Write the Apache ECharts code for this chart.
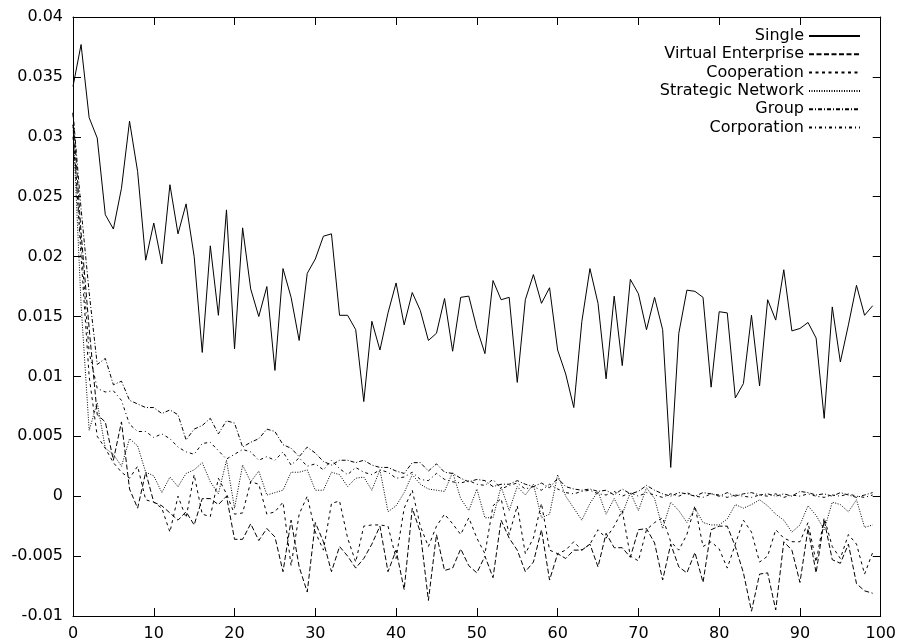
<!DOCTYPE html>
<html>
<head>
<meta charset="utf-8">
<script src="https://cdn.jsdelivr.net/npm/echarts@6/dist/echarts.min.js"></script>
<style>
html,body{margin:0;padding:0;background:#fff;}
#chart{width:899px;height:642px;}
</style>
</head>
<body>
<div id="chart"></div>
<script>
// x positions 0..99 (one point per step)
var xSteps = [];
for (var i = 0; i < 100; i++) xSteps.push(i);

var xTicks = [0, 10, 20, 30, 40, 50, 60, 70, 80, 90, 100];
var yTicks = [-0.01, -0.005, 0, 0.005, 0.01, 0.015, 0.02, 0.025, 0.03, 0.035, 0.04];

var seriesNames = ["Single", "Virtual Enterprise", "Cooperation", "Strategic Network", "Group", "Corporation"];

var single = [
0.0342,0.0377,0.0316,0.0299,0.0235,0.0223,0.0257,0.0313,0.0271,0.0197,
0.0228,0.0194,0.0260,0.0219,0.0244,0.0200,0.0120,0.0209,0.0151,0.0239,
0.0123,0.0224,0.0173,0.0150,0.0175,0.0105,0.0190,0.0166,0.0130,0.0186,
0.0198,0.0217,0.0219,0.0151,0.0151,0.0139,0.0079,0.0146,0.0122,0.0153,
0.0178,0.0143,0.0170,0.0155,0.0130,0.0136,0.0165,0.0121,0.0166,0.0167,
0.0140,0.0119,0.0180,0.0164,0.0166,0.0095,0.0164,0.0185,0.0161,0.0174,
0.0122,0.0102,0.0074,0.0146,0.0190,0.0161,0.0098,0.0167,0.0109,0.0181,
0.0169,0.0139,0.0166,0.0139,0.0024,0.0136,0.0172,0.0171,0.0166,0.0091,
0.0154,0.0153,0.0082,0.0094,0.0151,0.0092,0.0164,0.0147,0.0189,0.0138,
0.0140,0.0145,0.0132,0.0065,0.0158,0.0112,0.0143,0.0176,0.0151,0.0159
];

var virtualEnterprise = [
0.0320,0.0220,0.0140,0.0068,0.0062,0.0030,0.0062,0.0006,-0.0010,0.0020,
-0.0005,-0.0008,-0.0014,-0.0020,-0.0013,-0.0024,-0.0002,-0.0002,-0.0007,0.0000,
-0.0036,-0.0036,-0.0023,-0.0037,-0.0027,-0.0034,-0.0063,-0.0020,-0.0059,-0.0080,
-0.0022,-0.0038,-0.0063,-0.0042,-0.0050,-0.0060,-0.0052,-0.0040,-0.0025,-0.0063,
-0.0045,-0.0078,-0.0010,-0.0030,-0.0087,-0.0032,-0.0062,-0.0060,-0.0044,-0.0058,
-0.0064,-0.0050,-0.0068,-0.0020,-0.0035,-0.0045,-0.0063,-0.0055,-0.0028,-0.0070,
-0.0048,-0.0052,-0.0045,-0.0045,-0.0040,-0.0059,-0.0031,-0.0043,-0.0043,-0.0051,
-0.0028,-0.0027,-0.0039,-0.0070,-0.0040,-0.0059,-0.0064,-0.0047,-0.0072,-0.0028,
-0.0025,-0.0025,-0.0042,-0.0064,-0.0096,-0.0065,-0.0064,-0.0095,-0.0038,-0.0045,
-0.0072,-0.0027,-0.0064,-0.0020,-0.0053,-0.0056,-0.0040,-0.0073,-0.0079,-0.0081
];

var cooperation = [
0.0310,0.0200,0.0100,0.0050,0.0040,0.0028,0.0020,0.0015,0.0025,-0.0003,
-0.0005,-0.0010,-0.0030,0.0000,-0.0018,0.0018,-0.0015,-0.0017,0.0015,0.0002,
-0.0015,-0.0014,0.0012,0.0010,-0.0015,-0.0013,-0.0005,-0.0058,-0.0015,0.0000,
-0.0030,-0.0045,-0.0006,-0.0004,-0.0035,-0.0055,-0.0025,-0.0024,-0.0024,-0.0025,
-0.0052,-0.0010,0.0005,-0.0025,-0.0042,-0.0025,-0.0015,-0.0023,-0.0032,-0.0018,
-0.0035,-0.0048,-0.0008,-0.0002,-0.0032,-0.0008,-0.0048,-0.0035,-0.0006,-0.0045,
-0.0048,-0.0045,-0.0038,-0.0045,-0.0040,-0.0028,-0.0035,-0.0025,-0.0012,-0.0050,
-0.0054,-0.0028,-0.0022,-0.0018,-0.0038,-0.0045,-0.0032,-0.0008,-0.0042,-0.0038,
-0.0044,-0.0060,-0.0040,-0.0020,-0.0030,-0.0055,-0.0050,-0.0028,-0.0035,-0.0038,
-0.0038,-0.0022,-0.0055,-0.0018,-0.0042,-0.0052,-0.0032,-0.0040,-0.0065,-0.0047
];

var strategicNetwork = [
0.0310,0.0160,0.0055,0.0078,0.0040,0.0035,0.0025,0.0048,0.0042,0.0020,
0.0017,0.0003,0.0016,0.0008,0.0019,0.0022,0.0028,0.0012,0.0002,0.0030,
-0.0010,0.0026,0.0012,0.0021,0.0001,0.0003,0.0005,0.0020,0.0020,0.0022,
0.0005,0.0005,0.0020,0.0018,0.0008,0.0015,0.0016,0.0005,0.0022,-0.0013,
-0.0008,0.0003,0.0018,0.0010,0.0006,0.0005,0.0004,0.0020,-0.0002,-0.0012,
0.0006,-0.0018,-0.0018,0.0008,-0.0012,0.0008,0.0001,0.0010,-0.0018,-0.0015,
0.0018,0.0000,-0.0010,-0.0020,-0.0006,0.0004,-0.0015,-0.0002,-0.0015,0.0003,
-0.0012,0.0007,-0.0002,-0.0027,-0.0005,-0.0012,-0.0022,-0.0010,-0.0022,-0.0024,
-0.0024,-0.0019,-0.0007,-0.0010,-0.0007,-0.0003,-0.0008,-0.0015,-0.0020,-0.0030,
-0.0024,-0.0008,-0.0016,-0.0028,-0.0005,-0.0007,-0.0013,-0.0003,-0.0026,-0.0024
];

var group = [
0.0320,0.0240,0.0170,0.0110,0.0115,0.0093,0.0096,0.0080,0.0077,0.0074,
0.0074,0.0069,0.0072,0.0068,0.0047,0.0056,0.0059,0.0065,0.0052,0.0063,
0.0061,0.0041,0.0045,0.0048,0.0056,0.0054,0.0043,0.0040,0.0033,0.0041,
0.0036,0.0029,0.0026,0.0030,0.0030,0.0028,0.0030,0.0026,0.0024,0.0024,
0.0021,0.0019,0.0028,0.0028,0.0021,0.0027,0.0020,0.0019,0.0015,0.0012,
0.0014,0.0013,0.0008,0.0010,0.0010,0.0013,0.0010,0.0008,0.0011,0.0007,
0.0015,0.0008,0.0006,0.0005,0.0006,0.0004,0.0005,0.0001,0.0006,0.0002,
0.0004,0.0009,0.0005,0.0002,0.0000,0.0003,0.0002,0.0000,0.0003,0.0002,
0.0000,0.0003,0.0000,0.0002,0.0003,0.0001,0.0002,0.0000,0.0002,0.0000,
0.0004,0.0003,0.0001,0.0002,0.0000,0.0003,0.0001,-0.0001,0.0001,0.0003
];

var corporation = [
0.0300,0.0210,0.0120,0.0090,0.0087,0.0088,0.0080,0.0060,0.0054,0.0054,
0.0049,0.0052,0.0048,0.0041,0.0037,0.0035,0.0044,0.0045,0.0038,0.0031,
0.0035,0.0039,0.0037,0.0030,0.0033,0.0030,0.0037,0.0026,0.0032,0.0025,
0.0027,0.0022,0.0030,0.0023,0.0018,0.0024,0.0020,0.0018,0.0022,0.0020,
0.0015,0.0016,0.0020,0.0014,0.0013,0.0019,0.0014,0.0012,0.0011,0.0013,
0.0010,0.0009,0.0014,0.0006,0.0009,0.0011,0.0006,0.0008,0.0005,0.0010,
0.0006,0.0003,0.0002,0.0004,0.0005,0.0002,0.0001,0.0004,0.0000,0.0003,
0.0000,0.0003,0.0001,-0.0001,0.0002,0.0000,0.0003,0.0000,-0.0001,0.0002,
0.0001,-0.0001,0.0001,0.0000,-0.0001,0.0001,0.0000,0.0002,-0.0001,0.0001,
0.0000,0.0002,0.0000,-0.0001,0.0001,0.0000,0.0002,0.0000,-0.0001,0.0001
];

var allValues = [single, virtualEnterprise, cooperation, strategicNetwork, group, corporation];
var dashes = ['solid', [5, 2.5], [3, 3.5], [1, 1.5], [4, 2, 1, 2], [3, 3, 1, 3]];

function pairs(vals) {
  return vals.map(function (v, i) { return [xSteps[i], v]; });
}

var FONT = 'DejaVu Sans';
var chart = echarts.init(document.getElementById('chart'), null, {renderer: 'canvas'});

var axisCommon = {
  type: 'value',
  axisLine: {show: true, onZero: false, lineStyle: {color: '#000', width: 1}},
  axisTick: {show: true, inside: true, length: 8, lineStyle: {color: '#000', width: 1}},
  splitLine: {show: false},
  minorTick: {show: false}
};

function fmtY(v) { return parseFloat(v.toFixed(4)).toString(); }

var option = {
  animation: false,
  backgroundColor: '#fff',
  grid: {left: 73, right: 15, top: 17, bottom: 26, containLabel: false},
  xAxis: [
    Object.assign({}, axisCommon, {
      min: xTicks[0], max: xTicks[xTicks.length - 1], interval: 10, position: 'bottom',
      axisLabel: {show: true, color: '#000', fontFamily: FONT, fontSize: 16, margin: 10}
    }),
    Object.assign({}, axisCommon, {
      min: xTicks[0], max: xTicks[xTicks.length - 1], interval: 10, position: 'top',
      axisLabel: {show: false}
    })
  ],
  yAxis: [
    Object.assign({}, axisCommon, {
      min: yTicks[0], max: yTicks[yTicks.length - 1], interval: 0.005, position: 'left',
      axisLabel: {show: true, color: '#000', fontFamily: FONT, fontSize: 16, margin: 10, formatter: fmtY}
    }),
    Object.assign({}, axisCommon, {
      min: yTicks[0], max: yTicks[yTicks.length - 1], interval: 0.005, position: 'right',
      axisLabel: {show: false}
    })
  ],
  legend: {
    orient: 'vertical',
    right: 38,
    top: 27,
    align: 'right',
    padding: 0,
    itemGap: 0.3,
    itemWidth: 51,
    itemHeight: 14,
    selectedMode: false,
    itemStyle: {opacity: 0, color: 'rgba(0,0,0,0)', borderWidth: 0},
    textStyle: {color: '#000', fontFamily: FONT, fontSize: 16, lineHeight: 18},
    data: seriesNames
  },
  series: seriesNames.map(function (name, k) {
    return {
      name: name,
      type: 'line',
      xAxisIndex: 0,
      yAxisIndex: 0,
      data: pairs(allValues[k]),
      symbol: 'none',
      showSymbol: false,
      smooth: false,
      clip: true,
      color: '#000',
      lineStyle: {color: '#000', width: 1, type: dashes[k]},
      z: 2 + k
    };
  })
};
chart.setOption(option);
</script>
</body>
</html>
